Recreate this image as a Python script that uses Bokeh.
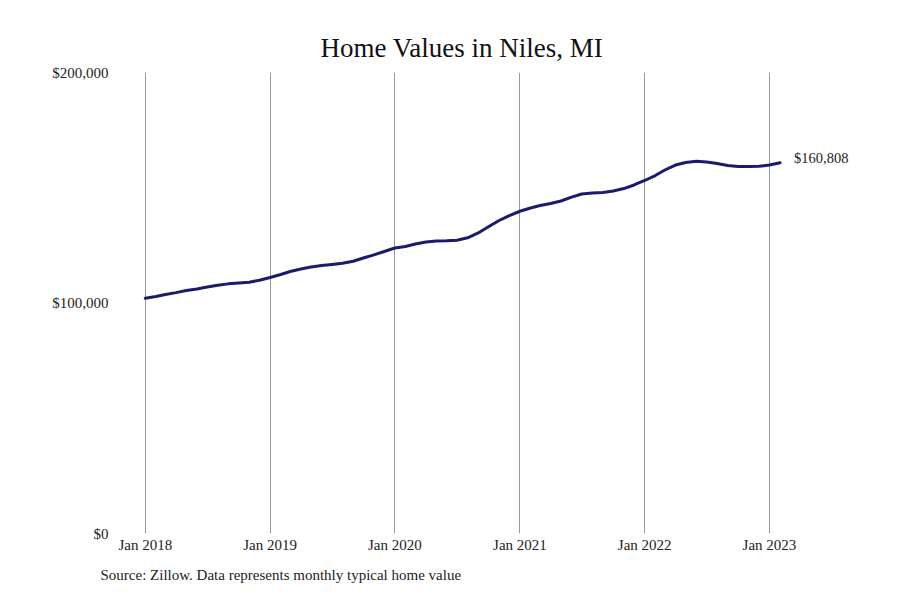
from datetime import datetime
import pandas as pd
from bokeh.plotting import figure
from bokeh.models import (ColumnDataSource, FixedTicker, NumeralTickFormatter,
                          DatetimeTickFormatter, Title, Range1d)
from bokeh.core.properties import value
from bokeh.embed import file_html
from bokeh.resources import INLINE

# ---- data ----
start_month = "2018-01-01"
n_months = 62
home_values = [
    102100, 102800, 103700, 104500, 105400, 106100, 106900, 107700, 108300, 108700, 109000, 109900,
    111050, 112350, 113650, 114750, 115600, 116250, 116750, 117250, 118100, 119500, 120900, 122350,
    123850, 124500, 125600, 126450, 126900, 127000, 127250, 128300, 130400, 133100, 135800, 137950,
    139800, 141200, 142300, 143150, 144250, 145950, 147300, 147700, 147900, 148600, 149650, 151200,
    153150, 155300, 157700, 159850, 160950, 161450, 161150, 160500, 159650, 159200, 159200, 159300,
    159850, 160808,
]
end_label = "$160,808"
tick_years = [2018, 2019, 2020, 2021, 2022, 2023]
y_ticks = [0, 100000, 200000]
title_text = "Home Values in Niles, MI"
source_text = "Source: Zillow. Data represents monthly typical home value"

dates = pd.date_range(start_month, periods=n_months, freq="MS")
src = ColumnDataSource(dict(date=dates, val=home_values))
last = ColumnDataSource(dict(date=[dates[-1]], val=[home_values[-1]], txt=[end_label]))

SERIF = "Liberation Serif"
TXT = "#222222"

p = figure(width=884, height=592, x_axis_type="datetime",
           output_backend="svg", toolbar_location=None,
           x_range=Range1d(datetime(2017, 9, 30), datetime(2023, 11, 16)),
           y_range=Range1d(0, 200000),
           min_border_left=113, min_border_right=6,
           min_border_top=72, min_border_bottom=59)
p.outline_line_color = None
p.background_fill_color = "white"
p.border_fill_color = "white"

p.line("date", "val", source=src, line_color="#1c1a6c", line_width=3,
       line_join="round", line_cap="round")
p.text("date", "val", text="txt", source=last, x_offset=14, y_offset=-5,
       text_font=value(SERIF), text_font_size="14.5px", text_color=TXT,
       text_align="left", text_baseline="middle")

# axes
tick_ms = [datetime(y, 1, 1).timestamp() * 1000 for y in tick_years]
p.xaxis.ticker = FixedTicker(ticks=tick_ms)
fmt = "%b %Y"
p.xaxis.formatter = DatetimeTickFormatter(years=fmt, months=fmt, days=fmt, hours=fmt,
                                          minutes=fmt, seconds=fmt, milliseconds=fmt,
                                          microseconds=fmt, context=None)
p.yaxis.ticker = FixedTicker(ticks=y_ticks)
p.yaxis.formatter = NumeralTickFormatter(format="$0,0")
for ax in (p.xaxis, p.yaxis):
    ax.axis_line_color = None
    ax.major_tick_line_color = None
    ax.minor_tick_line_color = None
    ax.major_label_text_font = SERIF
    ax.major_label_text_font_size = "15px"
    ax.major_label_text_color = TXT
p.xaxis.major_label_standoff = -3
p.yaxis.major_label_standoff = -1

p.xgrid.ticker = FixedTicker(ticks=tick_ms)
p.xgrid.grid_line_color = "#9a9a9a"
p.xgrid.grid_line_width = 1
p.ygrid.grid_line_color = None

p.title = Title(text=title_text, align="left", offset=207,
                text_font=SERIF, text_font_size="27px", text_font_style="normal",
                text_color="#111111", standoff=20)

p.add_layout(Title(text=source_text, align="left", offset=-13,
                   text_font=SERIF, text_font_size="15px", text_font_style="normal",
                   text_color=TXT, standoff=19), "below")

open("out.html", "w").write(file_html(p, INLINE))
